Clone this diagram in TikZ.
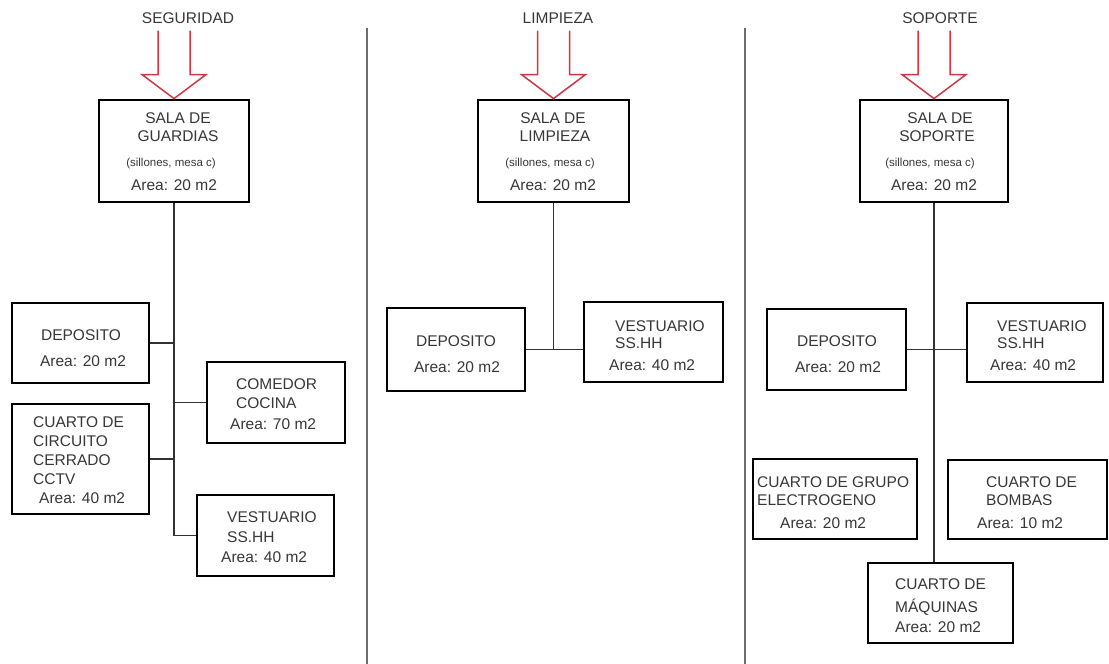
\documentclass[tikz,border=0pt]{standalone}
\usepackage{fontspec}
\setmainfont{Liberation Sans}
\definecolor{tcol}{RGB}{55,55,55}
\definecolor{arrred}{RGB}{205,55,70}
\definecolor{divcol}{RGB}{110,110,110}
\definecolor{conncol}{RGB}{50,50,50}
\tikzset{
  box/.style={draw=black, line width=2.8pt, fill=white, inner sep=0pt},
  txt/.style={inner sep=0pt, text=tcol, font=\fontsize{15.5}{18}\selectfont},
  ltxt/.style={txt, anchor=base west},
  ctxt/.style={txt, anchor=base},
  small/.style={inner sep=0pt, text=tcol, anchor=base, font=\fontsize{11.5}{13}\selectfont},
  conn/.style={draw=conncol, line width=1.2pt},
  divline/.style={draw=divcol, line width=1.6pt},
  bigarrow/.pic={\draw[draw=arrred, line width=1.5pt, line join=miter]
     (-16,-68) -- (-16,-24) -- (-32,-24) -- (0,0) -- (32,-24) -- (16,-24) -- (16,-68);}
}
\begin{document}
\begin{tikzpicture}[x=1pt, y=-1pt]
\fill[white] (0,0) rectangle (1109,664);
\useasboundingbox (0,0) rectangle (1109,664);

% dividers
\draw[divline] (367,28) -- (367,664);
\draw[divline] (745,28) -- (745,664);

% ---------------- SEGURIDAD ----------------
\node[ctxt] (tseg) at (188,23.5) {SEGURIDAD};
\node[box, minimum width=150pt, minimum height=102pt] (sg) at (174,151) {};
\node[box, minimum width=137pt, minimum height=80pt] (sd) at (80.5,343) {};
\node[box, minimum width=137pt, minimum height=110pt] (sc) at (80.5,459) {};
\node[box, minimum width=138pt, minimum height=81pt] (sm) at (276,402.5) {};
\node[box, minimum width=137pt, minimum height=81pt] (sv) at (265.5,535.5) {};
\pic at (sg.north) {bigarrow};
\coordinate (sgend) at (sg.south |- sv.west);
\draw[conn] (sg.south) -- (sgend);
\draw[conn] (sd.east) -- (sd.east -| sg.south);
\draw[conn] (sc.east) -- (sc.east -| sg.south);
\draw[conn] (sm.west) -- (sm.west -| sg.south);
\draw[conn] (sv.west) -- (sgend);

\node[ctxt] (sg1) at (178,123.5) {SALA DE};
\node[ctxt] (sg2) at (178,141.5) {GUARDIAS};
\node[small] (sg3) at (171,166) {(sillones, mesa c)};
\node[ctxt] (sg4) at (174,190.5) {Area: 20 m2};

\node[ctxt] (sd1) at (81,340.5) {DEPOSITO};
\node[ctxt] (sd2) at (83,366.5) {Area: 20 m2};

\node[ltxt] (sc1) at (33,427.5) {CUARTO DE};
\node[ltxt] (sc2) at (33,446) {CIRCUITO};
\node[ltxt] (sc3) at (33,465.5) {CERRADO};
\node[ltxt] (sc4) at (33,484.5) {CCTV};
\node[ltxt] (sc5) at (39,503.5) {Area: 40 m2};

\node[ltxt] (sm1) at (236,389.5) {COMEDOR};
\node[ltxt] (sm2) at (236,408.5) {COCINA};
\node[ltxt] (sm3) at (230,429.5) {Area: 70 m2};

\node[ltxt] (sv1) at (227,522.5) {VESTUARIO};
\node[ltxt] (sv2) at (227,542.5) {SS.HH};
\node[ltxt] (sv3) at (221,562.5) {Area: 40 m2};

% ---------------- LIMPIEZA ----------------
\node[ctxt] (tlim) at (558,23.5) {LIMPIEZA};
\node[box, minimum width=151pt, minimum height=102pt] (lg) at (553.5,151) {};
\node[box, minimum width=138pt, minimum height=83pt] (ld) at (456,349.5) {};
\node[box, minimum width=139pt, minimum height=80pt] (lv) at (653.5,342) {};
\pic at (lg.north) {bigarrow};
\coordinate (lgend) at (lg.south |- ld.east);
\draw[conn] (lg.south) -- (lgend);
\draw[conn] (ld.east) -- (ld.east -| lv.west);

\node[ctxt] (lg1) at (553,123.5) {SALA DE};
\node[ctxt] (lg2) at (555,141.5) {LIMPIEZA};
\node[small] (lg3) at (550,166.5) {(sillones, mesa c)};
\node[ctxt] (lg4) at (553,190.5) {Area: 20 m2};

\node[ctxt] (ld1) at (456,346.5) {DEPOSITO};
\node[ctxt] (ld2) at (457,372.5) {Area: 20 m2};

\node[ltxt] (lv1) at (615,331.5) {VESTUARIO};
\node[ltxt] (lv2) at (615,348.5) {SS.HH};
\node[ltxt] (lv3) at (609,370.5) {Area: 40 m2};

% ---------------- SOPORTE ----------------
\node[ctxt] (tsop) at (940,23.5) {SOPORTE};
\node[box, minimum width=148pt, minimum height=102pt] (pg) at (934,151) {};
\node[box, minimum width=139pt, minimum height=81pt] (pd) at (836.5,349.5) {};
\node[box, minimum width=136pt, minimum height=79pt] (pv) at (1035,342.5) {};
\node[box, minimum width=164pt, minimum height=80pt] (pe) at (835,499) {};
\node[box, minimum width=159pt, minimum height=79pt] (pb) at (1027.5,499.5) {};
\node[box, minimum width=145pt, minimum height=80pt] (pq) at (940.5,603) {};
\pic at (pg.north) {bigarrow};
\draw[conn] (pg.south) -- (pg.south |- pq.north);
\draw[conn] (pd.east) -- (pd.east -| pv.west);

\node[ctxt] (pg1) at (940,123.5) {SALA DE};
\node[ctxt] (pg2) at (937,141.5) {SOPORTE};
\node[small] (pg3) at (930,166) {(sillones, mesa c)};
\node[ctxt] (pg4) at (934,190.5) {Area: 20 m2};

\node[ctxt] (pd1) at (837,346.5) {DEPOSITO};
\node[ctxt] (pd2) at (838,372.5) {Area: 20 m2};

\node[ltxt] (pv1) at (997,331.5) {VESTUARIO};
\node[ltxt] (pv2) at (997,348.5) {SS.HH};
\node[ltxt] (pv3) at (990,370.5) {Area: 40 m2};

\node[ltxt] (pe1) at (757,487.5) {CUARTO DE GRUPO};
\node[ltxt] (pe2) at (757,505.5) {ELECTROGENO};
\node[ltxt] (pe3) at (780,528.5) {Area: 20 m2};

\node[ltxt] (pb1) at (986,487.5) {CUARTO DE};
\node[ltxt] (pb2) at (986,505.5) {BOMBAS};
\node[ltxt] (pb3) at (977,528.5) {Area: 10 m2};

\node[ltxt] (pq1) at (895,589.5) {CUARTO DE};
\node[ltxt] (pq2) at (895,612.5) {M\'{A}QUINAS};
\node[ltxt] (pq3) at (895,632.5) {Area: 20 m2};
\end{tikzpicture}
\end{document}
